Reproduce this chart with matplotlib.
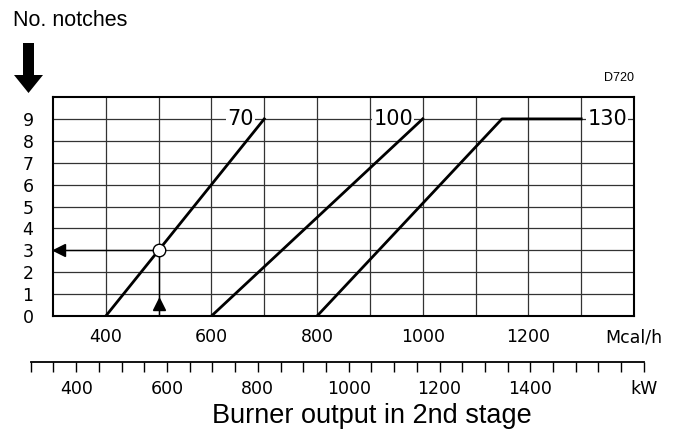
# notches vs burner output (2nd stage)
import numpy as np
import matplotlib.pyplot as plt

# curves: output in Mcal/h -> no. notches
mcal_70 = [400, 700]
notch_70 = [0, 9]
mcal_100 = [600, 1000]
notch_100 = [0, 9]
mcal_130 = [800, 1150, 1300]
notch_130 = [0, 9, 9]
curve_names = ["70", "100", "130"]
label_x = [655, 944, 1349]

# worked example
ex_mcal = 500
ex_notch = 3

mcal_ticks = [400, 600, 800, 1000, 1200]
kw_ticks = [400, 600, 800, 1000, 1200, 1400]
kw_range = (300, 1650)
KW_PER_MCAL = 1.163

tick_font = dict(family=["DejaVu Sans"], fontsize=12.5)

fig = plt.figure(figsize=(6.86, 4.30), dpi=100)
ax = fig.add_axes([53/686, 114/430, 581/686, 219/430])

ax.set_xlim(300, 1400)
ax.set_ylim(0, 10)
ax.set_xticks(np.arange(400, 1401, 100))
ax.set_xticklabels([str(t) if t in mcal_ticks else ("Mcal/h" if t == 1400 else "")
                    for t in np.arange(400, 1401, 100)], **tick_font)
ax.set_yticks(range(0, 10))
ax.set_yticklabels([str(i) for i in range(10)], **tick_font)
ax.tick_params(axis="both", length=0)
ax.tick_params(axis="x", pad=9)
ax.tick_params(axis="y", pad=14)
ax.grid(True, color="#333333", linewidth=0.9)
for s in ax.spines.values():
    s.set_linewidth(1.5)

lw = 2.0
ax.plot(mcal_70, notch_70, color="black", lw=lw, zorder=4)
ax.plot(mcal_100, notch_100, color="black", lw=lw, zorder=4)
ax.plot(mcal_130, notch_130, color="black", lw=lw, zorder=4)

for name, x in zip(curve_names, label_x):
    ax.text(x, 9, name, ha="center", va="center", family=["DejaVu Sans"],
            fontsize=15, zorder=3,
            bbox=dict(facecolor="white", edgecolor="none", pad=1.0))

# example path
ax.plot([300, ex_mcal], [ex_notch, ex_notch], color="black", lw=1.0, zorder=3)
ax.plot([ex_mcal, ex_mcal], [0, ex_notch], color="black", lw=1.0, zorder=3)
ax.plot(ex_mcal, ex_notch, "o", ms=9, mfc="white", mec="black", mew=1.0, zorder=5)
ax.plot(311, ex_notch, "<", ms=9, color="black", clip_on=False, zorder=5)
ax.plot(ex_mcal, 0.55, "^", ms=9, color="black", zorder=5)

# kW scale below
pos = ax.get_position()
def kw_to_fig(kw):
    return pos.x0 + (kw / KW_PER_MCAL - 300) / 1100 * pos.width
x0 = kw_to_fig(kw_range[0])
x1 = kw_to_fig(kw_range[1])
ax2 = fig.add_axes([x0, 1 - 362/430, x1 - x0, 1e-4])
ax2.set_xlim(*kw_range)
ax2.set_ylim(0, 1)
for side in ["top", "left", "right"]:
    ax2.spines[side].set_visible(False)
ax2.spines["bottom"].set_linewidth(1.3)
ax2.set_yticks([])
kw_all = np.arange(300, 1651, 50)
ax2.set_xticks(kw_all)
ax2.set_xticklabels([str(t) if t in kw_ticks else ("kW" if t == 1650 else "")
                     for t in kw_all], **tick_font)
ax2.tick_params(axis="x", length=7, width=1.0, direction="out", pad=6)
ax2.patch.set_visible(False)

# texts
fig.text(13/686, 1 - 20/430, "No. notches", family=["Liberation Sans"],
         fontsize=15.5, ha="left", va="center")
fig.text(634/686, 1 - 78/430, "D720", family=["Liberation Sans"],
         fontsize=9, ha="right", va="center")
fig.text(372/686, 1 - 416/430, "Burner output in 2nd stage", family=["Liberation Sans"],
         fontsize=19.5, ha="center", va="center")

# big down arrow
fig.patches.append(plt.Polygon(
    [(23/686, 1 - 43/430), (34/686, 1 - 43/430), (34/686, 1 - 75/430),
     (43/686, 1 - 75/430), (28.5/686, 1 - 93/430), (14/686, 1 - 75/430),
     (23/686, 1 - 75/430)],
    closed=True, transform=fig.transFigure, facecolor="black", edgecolor="none"))

fig.savefig("out.png", dpi=100)
